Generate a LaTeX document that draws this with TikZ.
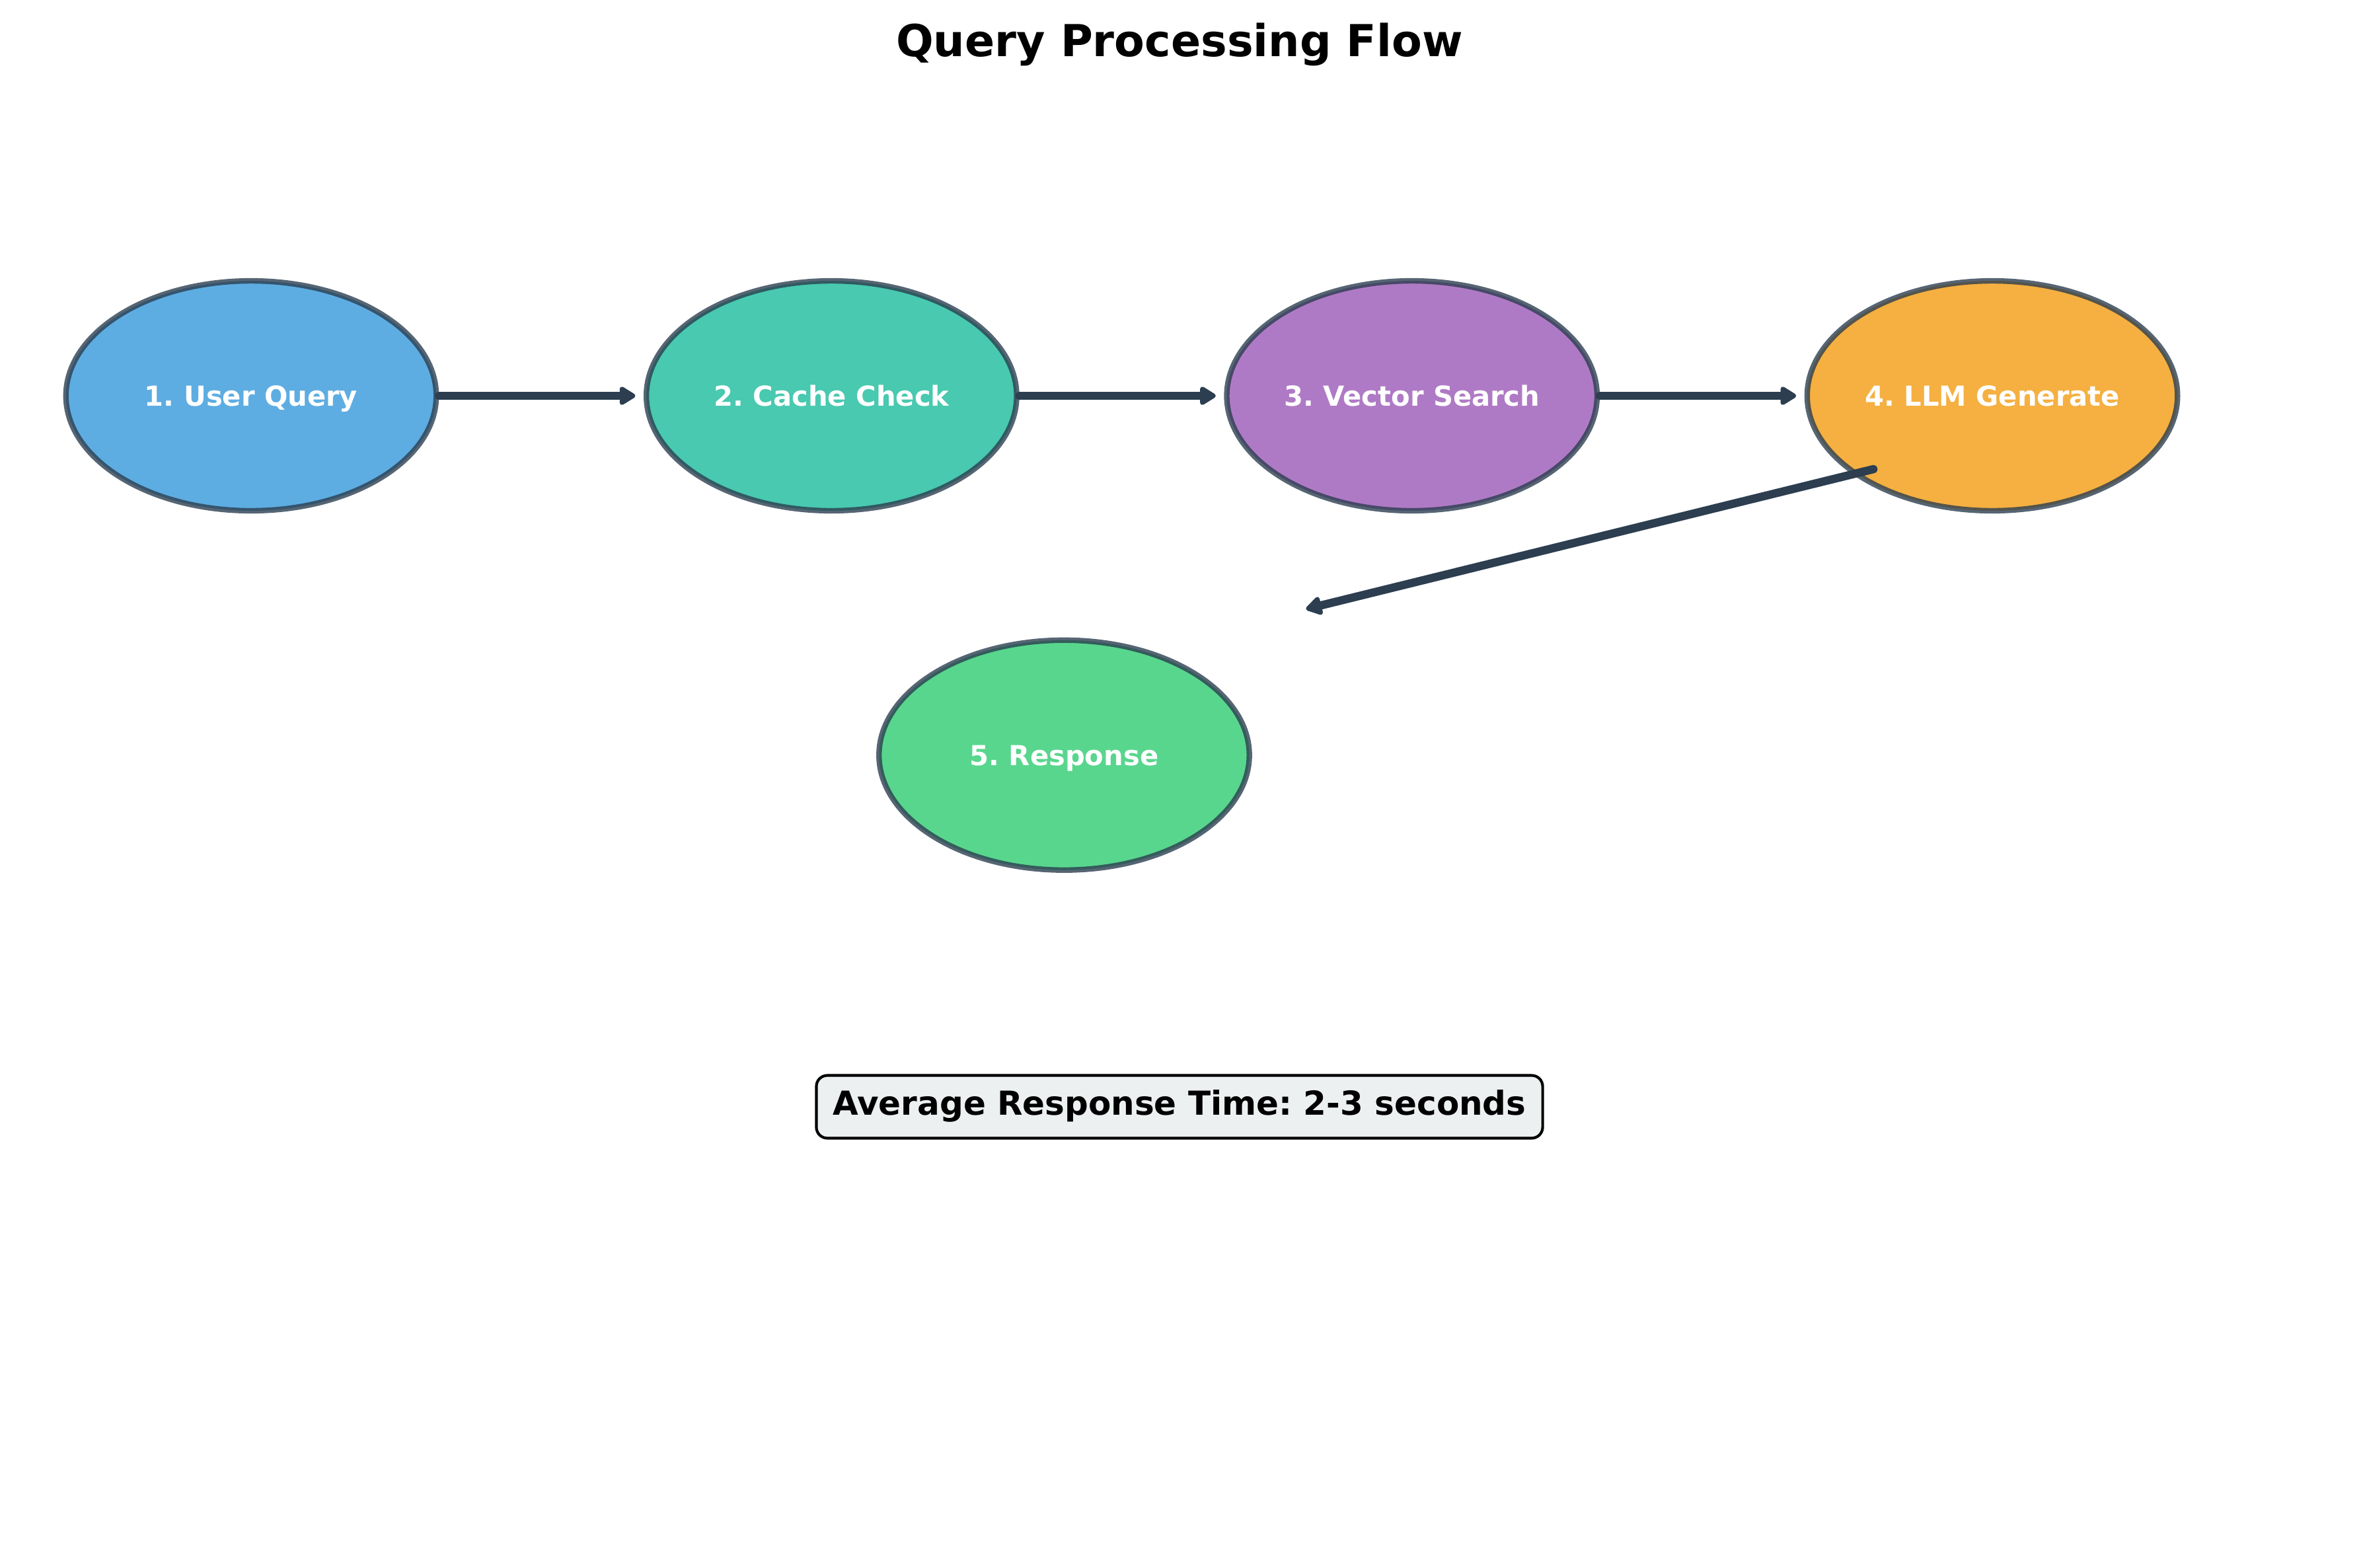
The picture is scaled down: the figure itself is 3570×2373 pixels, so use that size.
\documentclass[tikz,border=0pt]{standalone}
\usepackage{fontspec}
\setmainfont{DejaVu Sans}
\usepackage{xcolor}
\usetikzlibrary{shapes, arrows.meta, positioning}
\frenchspacing

\definecolor{c1}{HTML}{3498DB}
\definecolor{c2}{HTML}{1ABC9C}
\definecolor{c3}{HTML}{9B59B6}
\definecolor{c4}{HTML}{F39C12}
\definecolor{c5}{HTML}{2ECC71}
\definecolor{edge}{HTML}{2C3E50}
\definecolor{boxgray}{HTML}{ECF0F1}

\begin{document}
\begin{tikzpicture}[x=0.24bp, y=-0.24bp, every node/.style={font=\bfseries},
    stage/.style={ellipse, draw=edge, line width=2bp, opacity=0.8, text opacity=1, text=white,
        minimum width=134.5bp, minimum height=83.5bp, inner sep=0pt, text height=7.6bp, text depth=0pt,
        font=\bfseries\fontsize{10bp}{12bp}\selectfont},
    flow/.style={-{Triangle[length=6.5bp, width=7.5bp, round]}, line width=3bp, draw=edge, line cap=round}]
        \useasboundingbox (0,0) rectangle (3570,2373);
        % Title
        \node[anchor=base, font=\bfseries\fontsize{16bp}{19bp}\selectfont] (title) at (1785,85) {Query Processing Flow};
        % Pipeline stages
        \node[stage, fill=c1] (q1) at (380,599) {1. User Query};
        \foreach \i/\j/\txt in {2/1/2. Cache Check, 3/2/3. Vector Search, 4/3/4. LLM Generate} {
            \node[stage, fill=c\i, right=74.3bp of q\j] (q\i) {\txt};
            \draw[flow, shorten >=3bp] (q\j) -- (q\i);
        }
        % Response
        \node[stage, fill=c5, below=45bp of q2, xshift=84.5bp] (q5) {5. Response};
        \coordinate (gen4) at ([shift={(-180,111)}]q4.center);
        \coordinate (ret5) at ([shift={(366,-221)}]q5.center);
        \draw[flow] (gen4) -- (ret5);
        % Timing note
        \node[draw, line width=1bp, rounded corners=4bp, fill=boxgray, inner xsep=6bp, inner ysep=6bp,
            text height=8.4bp, text depth=2.4bp, font=\bfseries\fontsize{12bp}{14bp}\selectfont]
            (avgtime) at (1785,1675) {Average Response Time: 2-3 seconds};
    \end{tikzpicture}
\end{document}
